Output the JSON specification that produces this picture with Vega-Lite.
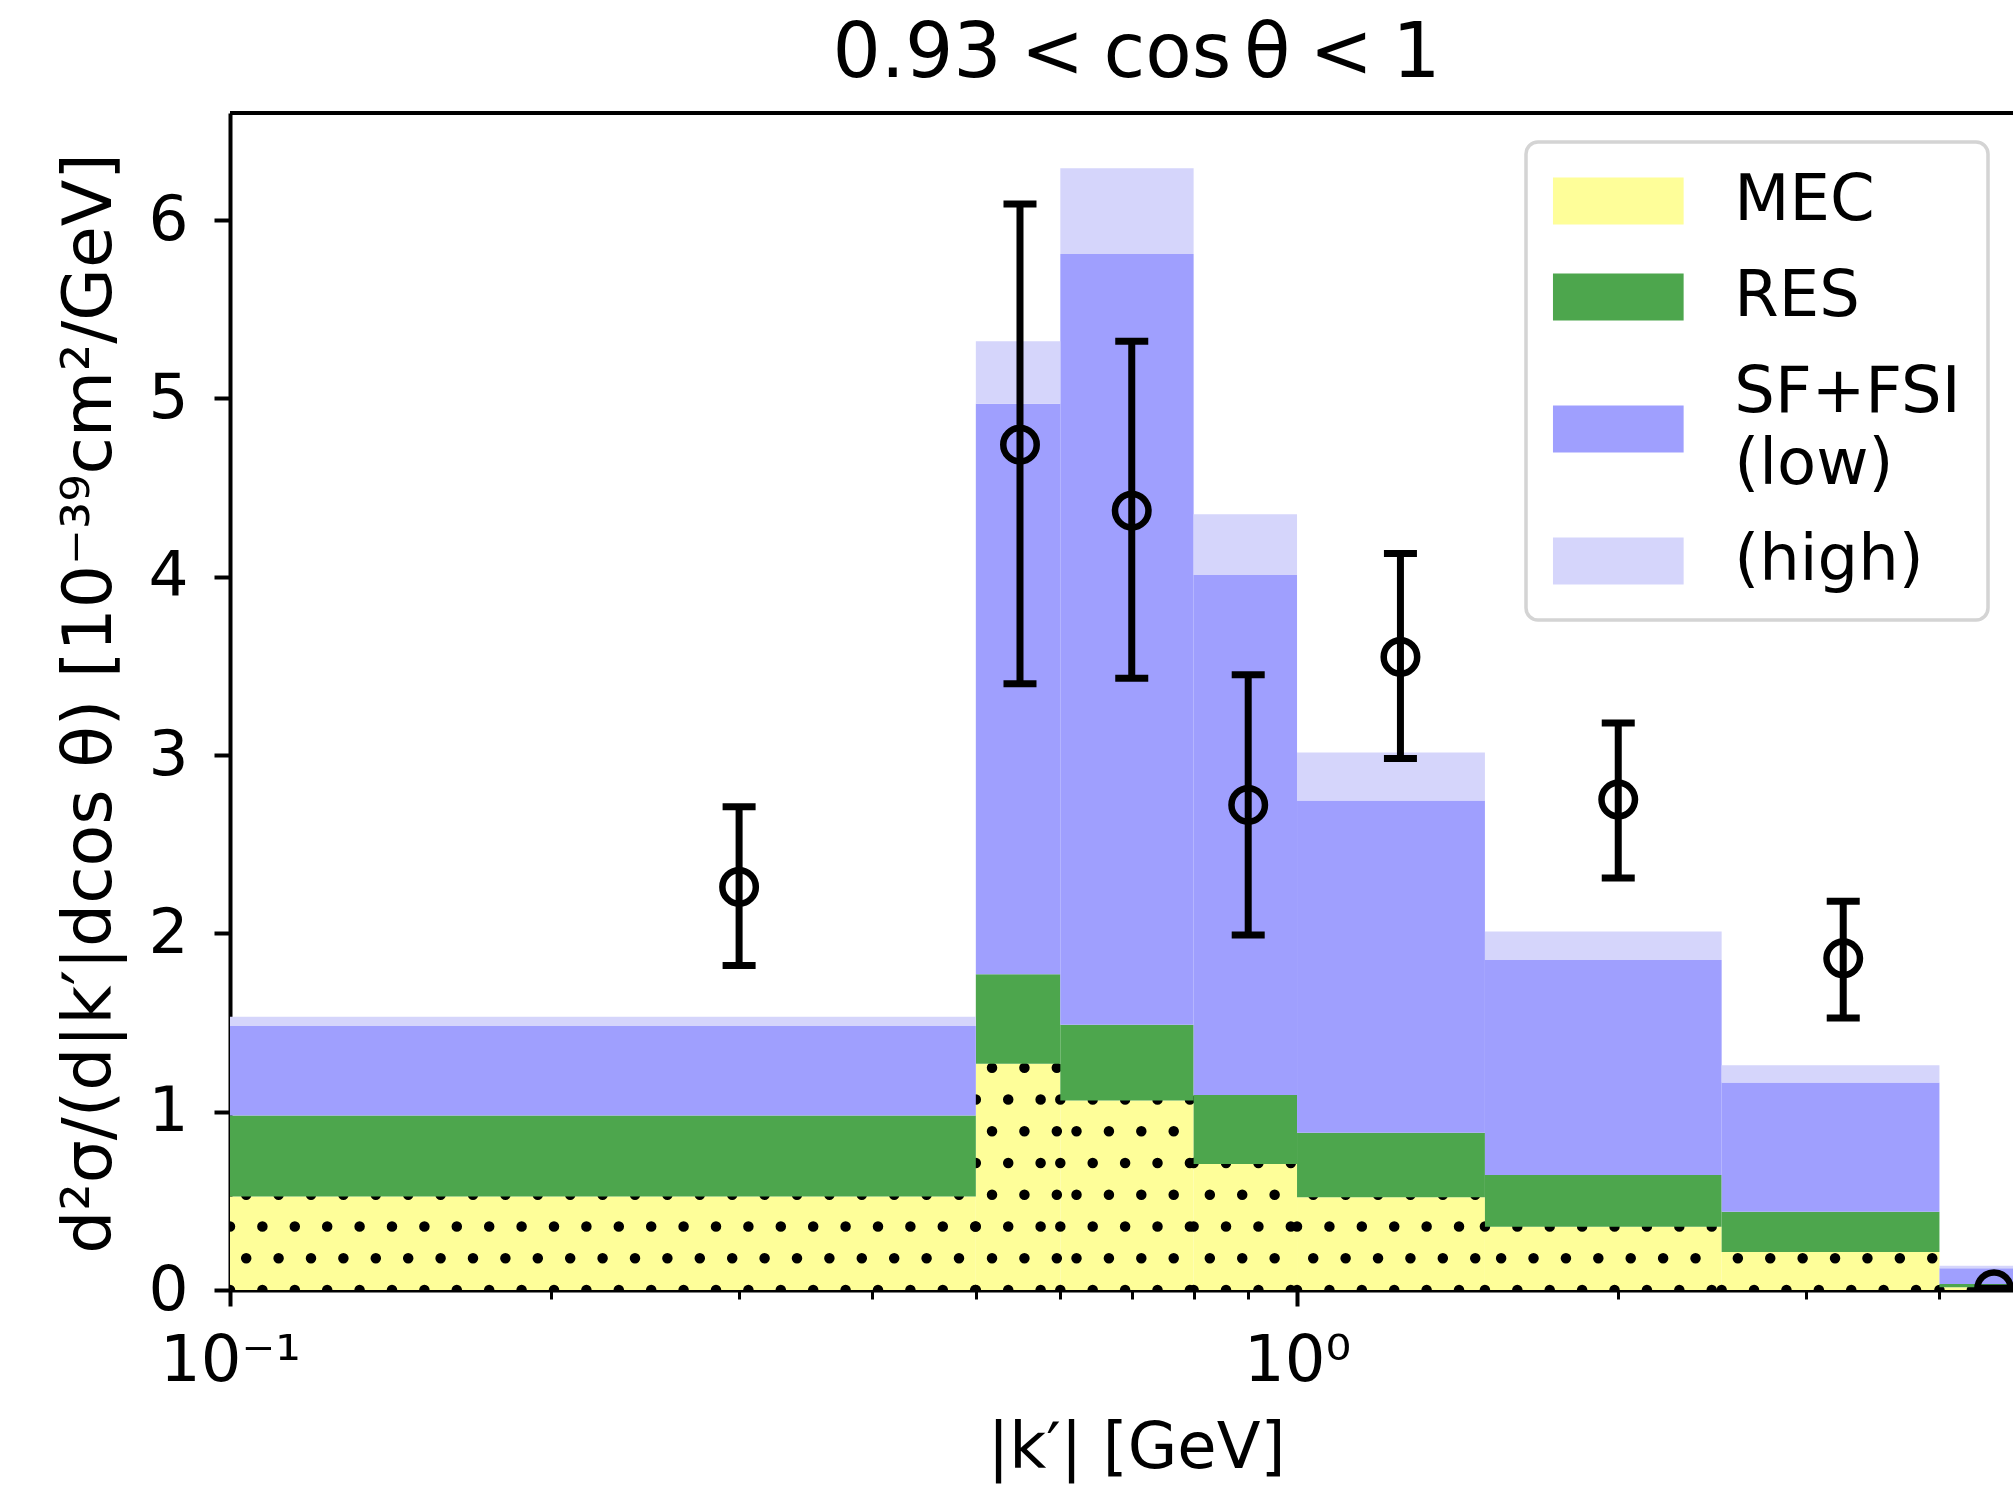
{
  "$schema": "https://vega.github.io/schema/vega-lite/v6.json",
  "width": 1783,
  "height": 1177,
  "autosize": {"type": "none"},
  "padding": {"left": 230, "top": 113, "right": 0, "bottom": 197},
  "background": "white",
  "config": {
    "font": "DejaVu Sans",
    "view": {"stroke": null},
    "axis": {"grid": false, "domainColor": "black", "tickColor": "black", "labelColor": "black", "titleColor": "black", "labelFont": "DejaVu Sans", "titleFont": "DejaVu Sans", "titleFontWeight": "normal", "zindex": 1},
    "legend": {
      "orient": "none", "legendX": 1296, "legendY": 29,
      "fillColor": "white", "strokeColor": "#d4d4d4", "strokeWidth": 3.5, "cornerRadius": 12, "padding": 27,
      "symbolType": "M-2.78,-1H2.78V1H-2.78Z", "symbolSize": 2209, "symbolStrokeWidth": 0, "symbolOpacity": 1, "symbolOffset": 33.3,
      "labelFontSize": 64, "labelFont": "DejaVu Sans", "labelColor": "black", "labelOffset": 84, "rowPadding": 32, "labelLimit": 800
    }
  },
  "title": {"text": "0.93\u2005<\u2005cos\u2006θ\u2005<\u20051", "fontSize": 76, "fontWeight": "normal", "font": "DejaVu Sans", "color": "black", "anchor": "middle", "frame": "group", "dx": 15, "dy": 73, "offset": 31, "baseline": "alphabetic"},
  "datasets": {
    "bins": [
      {"lo": 0.1, "hi": 0.5, "mec": 0.525, "res": 0.978, "low": 1.48, "high": 1.532},
      {"lo": 0.5, "hi": 0.6, "mec": 1.268, "res": 1.77, "low": 4.97, "high": 5.32},
      {"lo": 0.6, "hi": 0.8, "mec": 1.062, "res": 1.487, "low": 5.81, "high": 6.29},
      {"lo": 0.8, "hi": 1.0, "mec": 0.707, "res": 1.094, "low": 4.01, "high": 4.35},
      {"lo": 1.0, "hi": 1.5, "mec": 0.52, "res": 0.882, "low": 2.745, "high": 3.014},
      {"lo": 1.5, "hi": 2.5, "mec": 0.354, "res": 0.645, "low": 1.85, "high": 2.01},
      {"lo": 2.5, "hi": 4.0, "mec": 0.213, "res": 0.439, "low": 1.163, "high": 1.26},
      {"lo": 4.0, "hi": 5.0, "mec": 0.015, "res": 0.034, "low": 0.122, "high": 0.136}
    ],
    "points": [
      {"k": 0.3, "y": 2.26, "lo": 1.82, "hi": 2.71},
      {"k": 0.55, "y": 4.74, "lo": 3.40, "hi": 6.09},
      {"k": 0.7, "y": 4.37, "lo": 3.43, "hi": 5.32},
      {"k": 0.9, "y": 2.72, "lo": 1.99, "hi": 3.45},
      {"k": 1.25, "y": 3.55, "lo": 2.98, "hi": 4.13},
      {"k": 2.0, "y": 2.75, "lo": 2.31, "hi": 3.18},
      {"k": 3.25, "y": 1.86, "lo": 1.525, "hi": 2.18},
      {"k": 4.5, "y": 0.005, "lo": 0.0, "hi": 0.01}
    ]
  },
  "resolve": {"axis": {"x": "independent", "y": "independent"}},
  "layer": [
    {
      "data": {"name": "bins"},
      "mark": {"type": "rect", "clip": true},
      "encoding": {
        "x": {"field": "lo", "type": "quantitative", "scale": {"type": "log", "domain": [0.1, 4.688], "nice": false},
          "axis": {"orient": "bottom", "values": [0.1, 1], "labelExpr": "datum.value < 0.5 ? '10⁻¹' : '10⁰'", "labelFontSize": 64, "labelBaseline": "alphabetic", "labelPadding": 74, "tickSize": 16, "tickWidth": 4, "domainWidth": 4, "labelFlush": false, "labelOverlap": false, "title": "|k′| [GeV]", "titleFontSize": 64, "titleBaseline": "alphabetic", "titleAlign": "center", "titleX": 906, "titleY": 177}},
        "x2": {"field": "hi"},
        "y": {"field": "mec", "type": "quantitative", "scale": {"domain": [0, 6.6], "nice": false, "zero": false},
          "axis": {"orient": "left", "values": [0, 1, 2, 3, 4, 5, 6], "format": "d", "labelFontSize": 63, "tickSize": 16, "tickWidth": 4, "domainWidth": 4, "labelPadding": 26, "labelFlush": false, "labelOverlap": false, "title": "d²σ/(d|k′|dcos θ) [10⁻³⁹cm²/GeV]", "titleFontSize": 68, "titleAngle": 270, "titleBaseline": "alphabetic", "titleAlign": "center", "titleX": -120, "titleY": 590}},
        "y2": {"datum": 0},
        "color": {"datum": "MEC", "type": "nominal", "scale": {"domain": ["MEC", "RES", "SF+FSI (low)", "(high)"], "range": ["#fefe99", "#4da64d", "#9f9ffe", "#d5d5fb"]},
          "legend": {"title": null, "labelExpr": "datum.label == 'SF+FSI (low)' ? ['SF+FSI\u00a0\u00a0', '(low)'] : datum.label",
            "encode": {"symbols": {"update": {"y": {"signal": "datum.value == 'SF+FSI (low)' ? 68 : 32"}}}, "labels": {"update": {"lineHeight": {"value": 72}}}}}}
      }
    },
    {
      "data": {"name": "bins"},
      "mark": {"type": "rule", "clip": true, "color": "black", "strokeWidth": 10.5, "strokeCap": "round", "strokeDash": [0, 32.4], "strokeDashOffset": 0},
      "encoding": {"x": {"field": "lo", "type": "quantitative", "scale": {"type": "log", "domain": [0.1, 4.688], "nice": false}, "axis": null}, "x2": {"field": "hi"}, "y": {"datum": 0, "type": "quantitative", "scale": {"domain": [0, 6.6], "nice": false, "zero": false}, "axis": null}}
    },
    {
      "data": {"name": "bins"},
      "transform": [{"filter": "datum.mec > 0.151"}],
      "mark": {"type": "rule", "clip": true, "color": "black", "strokeWidth": 10.5, "strokeCap": "round", "strokeDash": [0, 32.4], "strokeDashOffset": 16.2},
      "encoding": {"x": {"field": "lo", "type": "quantitative", "scale": {"type": "log", "domain": [0.1, 4.688], "nice": false}, "axis": null}, "x2": {"field": "hi"}, "y": {"datum": 0.178, "type": "quantitative", "scale": {"domain": [0, 6.6], "nice": false, "zero": false}, "axis": null}}
    },
    {
      "data": {"name": "bins"},
      "transform": [{"filter": "datum.mec > 0.329"}],
      "mark": {"type": "rule", "clip": true, "color": "black", "strokeWidth": 10.5, "strokeCap": "round", "strokeDash": [0, 32.4], "strokeDashOffset": 0},
      "encoding": {"x": {"field": "lo", "type": "quantitative", "scale": {"type": "log", "domain": [0.1, 4.688], "nice": false}, "axis": null}, "x2": {"field": "hi"}, "y": {"datum": 0.356, "type": "quantitative", "scale": {"domain": [0, 6.6], "nice": false, "zero": false}, "axis": null}}
    },
    {
      "data": {"name": "bins"},
      "transform": [{"filter": "datum.mec > 0.507"}],
      "mark": {"type": "rule", "clip": true, "color": "black", "strokeWidth": 10.5, "strokeCap": "round", "strokeDash": [0, 32.4], "strokeDashOffset": 16.2},
      "encoding": {"x": {"field": "lo", "type": "quantitative", "scale": {"type": "log", "domain": [0.1, 4.688], "nice": false}, "axis": null}, "x2": {"field": "hi"}, "y": {"datum": 0.534, "type": "quantitative", "scale": {"domain": [0, 6.6], "nice": false, "zero": false}, "axis": null}}
    },
    {
      "data": {"name": "bins"},
      "transform": [{"filter": "datum.mec > 0.685"}],
      "mark": {"type": "rule", "clip": true, "color": "black", "strokeWidth": 10.5, "strokeCap": "round", "strokeDash": [0, 32.4], "strokeDashOffset": 0},
      "encoding": {"x": {"field": "lo", "type": "quantitative", "scale": {"type": "log", "domain": [0.1, 4.688], "nice": false}, "axis": null}, "x2": {"field": "hi"}, "y": {"datum": 0.712, "type": "quantitative", "scale": {"domain": [0, 6.6], "nice": false, "zero": false}, "axis": null}}
    },
    {
      "data": {"name": "bins"},
      "transform": [{"filter": "datum.mec > 0.863"}],
      "mark": {"type": "rule", "clip": true, "color": "black", "strokeWidth": 10.5, "strokeCap": "round", "strokeDash": [0, 32.4], "strokeDashOffset": 16.2},
      "encoding": {"x": {"field": "lo", "type": "quantitative", "scale": {"type": "log", "domain": [0.1, 4.688], "nice": false}, "axis": null}, "x2": {"field": "hi"}, "y": {"datum": 0.89, "type": "quantitative", "scale": {"domain": [0, 6.6], "nice": false, "zero": false}, "axis": null}}
    },
    {
      "data": {"name": "bins"},
      "transform": [{"filter": "datum.mec > 1.041"}],
      "mark": {"type": "rule", "clip": true, "color": "black", "strokeWidth": 10.5, "strokeCap": "round", "strokeDash": [0, 32.4], "strokeDashOffset": 0},
      "encoding": {"x": {"field": "lo", "type": "quantitative", "scale": {"type": "log", "domain": [0.1, 4.688], "nice": false}, "axis": null}, "x2": {"field": "hi"}, "y": {"datum": 1.068, "type": "quantitative", "scale": {"domain": [0, 6.6], "nice": false, "zero": false}, "axis": null}}
    },
    {
      "data": {"name": "bins"},
      "transform": [{"filter": "datum.mec > 1.219"}],
      "mark": {"type": "rule", "clip": true, "color": "black", "strokeWidth": 10.5, "strokeCap": "round", "strokeDash": [0, 32.4], "strokeDashOffset": 16.2},
      "encoding": {"x": {"field": "lo", "type": "quantitative", "scale": {"type": "log", "domain": [0.1, 4.688], "nice": false}, "axis": null}, "x2": {"field": "hi"}, "y": {"datum": 1.246, "type": "quantitative", "scale": {"domain": [0, 6.6], "nice": false, "zero": false}, "axis": null}}
    },
    {
      "data": {"name": "bins"},
      "mark": {"type": "rect", "clip": true},
      "encoding": {
        "x": {"field": "lo", "type": "quantitative", "scale": {"type": "log", "domain": [0.1, 4.688], "nice": false}, "axis": null},
        "x2": {"field": "hi"},
        "y": {"field": "res", "type": "quantitative", "scale": {"domain": [0, 6.6], "nice": false, "zero": false}, "axis": null},
        "y2": {"field": "mec"},
        "color": {"datum": "RES", "type": "nominal"}
      }
    },
    {
      "data": {"name": "bins"},
      "mark": {"type": "rect", "clip": true},
      "encoding": {
        "x": {"field": "lo", "type": "quantitative", "scale": {"type": "log", "domain": [0.1, 4.688], "nice": false}, "axis": null},
        "x2": {"field": "hi"},
        "y": {"field": "low", "type": "quantitative", "scale": {"domain": [0, 6.6], "nice": false, "zero": false}, "axis": null},
        "y2": {"field": "res"},
        "color": {"datum": "SF+FSI (low)", "type": "nominal"}
      }
    },
    {
      "data": {"name": "bins"},
      "mark": {"type": "rect", "clip": true},
      "encoding": {
        "x": {"field": "lo", "type": "quantitative", "scale": {"type": "log", "domain": [0.1, 4.688], "nice": false},
          "axis": {"orient": "bottom", "values": [0.2, 0.3, 0.4, 0.5, 0.6, 0.7, 0.8, 0.9, 2, 3, 4], "labels": false, "tickSize": 9, "tickWidth": 3, "domain": false, "title": null}},
        "x2": {"field": "hi"},
        "y": {"field": "high", "type": "quantitative", "scale": {"domain": [0, 6.6], "nice": false, "zero": false}, "axis": null},
        "y2": {"field": "low"},
        "color": {"datum": "(high)", "type": "nominal"}
      }
    },
    {
      "data": {"name": "points"},
      "mark": {"type": "rule", "clip": true, "color": "black", "strokeWidth": 7},
      "encoding": {
        "x": {"field": "k", "type": "quantitative", "scale": {"type": "log", "domain": [0.1, 4.688], "nice": false}, "axis": null},
        "y": {"field": "lo", "type": "quantitative", "scale": {"domain": [0, 6.6], "nice": false, "zero": false}, "axis": null},
        "y2": {"field": "hi"}
      }
    },
    {
      "data": {"name": "points"},
      "mark": {"type": "tick", "clip": true, "color": "black", "orient": "horizontal", "size": 33, "thickness": 7, "opacity": 1},
      "encoding": {
        "x": {"field": "k", "type": "quantitative", "scale": {"type": "log", "domain": [0.1, 4.688], "nice": false}, "axis": null},
        "y": {"field": "hi", "type": "quantitative", "scale": {"domain": [0, 6.6], "nice": false, "zero": false}, "axis": null}
      }
    },
    {
      "data": {"name": "points"},
      "mark": {"type": "tick", "clip": true, "color": "black", "orient": "horizontal", "size": 33, "thickness": 7, "opacity": 1},
      "encoding": {
        "x": {"field": "k", "type": "quantitative", "scale": {"type": "log", "domain": [0.1, 4.688], "nice": false}, "axis": null},
        "y": {"field": "lo", "type": "quantitative", "scale": {"domain": [0, 6.6], "nice": false, "zero": false}, "axis": null}
      }
    },
    {
      "data": {"name": "points"},
      "mark": {"type": "point", "clip": true, "shape": "circle", "filled": false, "size": 1120, "strokeWidth": 6.5, "color": "black", "opacity": 1},
      "encoding": {
        "x": {"field": "k", "type": "quantitative", "scale": {"type": "log", "domain": [0.1, 4.688], "nice": false}, "axis": null},
        "y": {"field": "y", "type": "quantitative", "scale": {"domain": [0, 6.6], "nice": false, "zero": false}, "axis": null}
      }
    },
    {
      "data": {"name": "points"},
      "mark": {"type": "rule", "color": "black", "strokeWidth": 4},
      "encoding": {
        "y": {"datum": 6.6, "type": "quantitative", "scale": {"domain": [0, 6.6], "nice": false, "zero": false}, "axis": null}
      }
    }
  ]
}
